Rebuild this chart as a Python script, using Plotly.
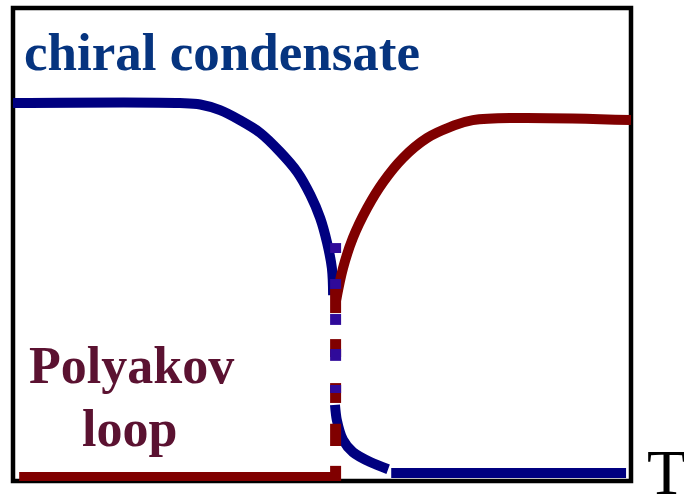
import plotly.graph_objects as go

# ---- data (T in arbitrary units 0..10, order parameter 0..1) ----
chiral_hi_T = [0.0, 2.70, 3.03, 3.35, 3.67, 4.00, 4.32, 4.60, 4.81, 4.97, 5.08, 5.16, 5.18]
chiral_hi_v = [0.799, 0.799, 0.796, 0.784, 0.763, 0.736, 0.696, 0.653, 0.605, 0.556, 0.505, 0.450, 0.393]

chiral_lo_T = [5.21, 5.24, 5.34, 5.50, 5.78, 6.07]
chiral_lo_v = [0.161, 0.129, 0.087, 0.061, 0.040, 0.025]
chiral_flat_T = [6.12, 9.92]
chiral_flat_v = [0.017, 0.017]

poly_hi_T = [5.23, 5.34, 5.50, 5.73, 5.99, 6.31, 6.70, 7.07, 7.44, 10.0]
poly_hi_v = [0.383, 0.450, 0.514, 0.577, 0.632, 0.683, 0.725, 0.748, 0.763, 0.763]

poly_lo_T = [0.10, 5.21]
poly_lo_v = [0.0085, 0.0085]

Tc = 5.22
red_dashes = [(0.406, 0.355), (0.300, 0.262), (0.207, 0.165), (0.121, 0.074), (0.032, -0.013)]
blue_dashes = [(0.503, 0.482), (0.427, 0.406), (0.353, 0.330), (0.279, 0.254), (0.203, 0.186)]

NAVY = "#000080"
MAROON = "#800000"
DASH_BLUE = "#2F0A9A"
LW = 10


def seg_xy(segs):
    xs, ys = [], []
    for a, b in segs:
        xs += [Tc, Tc, None]
        ys += [a, b, None]
    return xs, ys


fig = go.Figure()
fig.add_trace(go.Scatter(x=chiral_hi_T, y=chiral_hi_v, mode="lines",
                         line=dict(color=NAVY, width=LW, shape="spline", smoothing=1.0)))
fig.add_trace(go.Scatter(x=chiral_lo_T, y=chiral_lo_v, mode="lines",
                         line=dict(color=NAVY, width=LW, shape="spline", smoothing=0.8)))
fig.add_trace(go.Scatter(x=chiral_flat_T, y=chiral_flat_v, mode="lines",
                         line=dict(color=NAVY, width=LW)))
fig.add_trace(go.Scatter(x=poly_hi_T, y=poly_hi_v, mode="lines",
                         line=dict(color=MAROON, width=LW, shape="spline", smoothing=1.0)))
fig.add_trace(go.Scatter(x=poly_lo_T, y=poly_lo_v, mode="lines",
                         line=dict(color=MAROON, width=LW)))
rx, ry = seg_xy(red_dashes)
fig.add_trace(go.Scatter(x=rx, y=ry, mode="lines", line=dict(color=MAROON, width=11)))
bx, by = seg_xy(blue_dashes)
fig.add_trace(go.Scatter(x=bx, y=by, mode="lines", line=dict(color=DASH_BLUE, width=11)))

W, H = 684, 495
L, R, T, B = 13, 631, 8, 481


def px(x):
    return (x - L) / (R - L)


def py(y):
    return (B - y) / (B - T)


fig.add_shape(type="rect", xref="paper", yref="paper", x0=0, x1=1, y0=0, y1=1,
              line=dict(color="black", width=4.5), layer="below")

font_b = "Liberation Serif"
fig.add_annotation(text="<b>chiral condensate</b>", xref="paper", yref="paper",
                   x=px(22), y=py(70 - 17.8), xanchor="left", yanchor="middle",
                   showarrow=False, font=dict(family=font_b, size=53, color="#06347F"))
fig.add_annotation(text="<b>Polyakov</b>", xref="paper", yref="paper",
                   x=px(131), y=py(383 - 17.5), xanchor="center", yanchor="middle",
                   showarrow=False, font=dict(family=font_b, size=52, color="#5B1231"))
fig.add_annotation(text="<b>loop</b>", xref="paper", yref="paper",
                   x=px(129), y=py(446 - 17.5), xanchor="center", yanchor="middle",
                   showarrow=False, font=dict(family=font_b, size=52, color="#5B1231"))
fig.add_annotation(text="T", xref="paper", yref="paper",
                   x=px(666), y=py(494 - 21.6), xanchor="center", yanchor="middle",
                   showarrow=False, font=dict(family=font_b, size=64, color="black"))

fig.update_xaxes(range=[0, 10], visible=False, fixedrange=True)
fig.update_yaxes(range=[0, 1], visible=False, fixedrange=True)
fig.update_layout(width=W, height=H, margin=dict(l=L, r=W - R, t=T, b=H - B),
                  paper_bgcolor="white", plot_bgcolor="white", showlegend=False)

fig.write_html("out.html", config={"displayModeBar": False},
               post_script="document.body.style.margin='0px';")
